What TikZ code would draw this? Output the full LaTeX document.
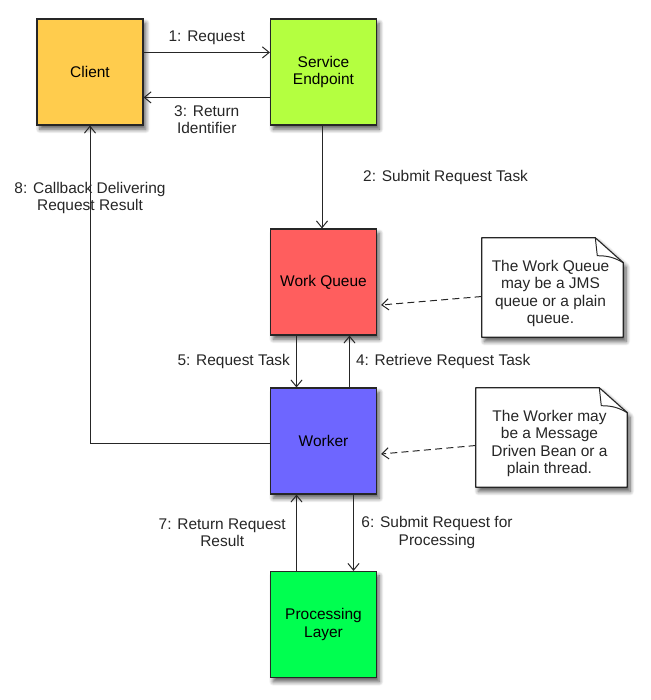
\documentclass[tikz,border=0pt]{standalone}
\usepackage{fontspec}
\setmainfont{Liberation Sans}
\usetikzlibrary{arrows.meta,positioning,calc,backgrounds,shadows.blur}
\definecolor{clientYellow}{RGB}{255,204,77}
\definecolor{endpointGreen}{RGB}{180,255,64}
\definecolor{queueRed}{RGB}{255,94,94}
\definecolor{workerBlue}{RGB}{110,102,255}
\definecolor{procGreen}{RGB}{0,255,80}
\colorlet{Ink}{black!85}

\begin{document}
\begin{tikzpicture}[x=0.025cm,y=-0.025cm,
      softshadow/.style={blur shadow={shadow xshift=2pt,shadow yshift=-3pt,
        shadow blur radius=3pt,shadow opacity=65,shadow blur steps=8}},
      comp/.style={draw=Ink,line width=0.8pt,minimum width=2.65cm,minimum height=2.65cm,
        align=center,font=\fontsize{11}{12.5}\selectfont,softshadow},
      note/.style={minimum height=2.475cm,inner sep=0pt},
      notepaper/.style={draw=Ink,fill=white,line width=0.8pt,line join=round,softshadow},
      lbl/.style={align=center,font=\fontsize{11}{12.5}\selectfont,text=Ink},
      flow/.style={draw=Ink,line width=0.7pt,-{Straight Barb[length=1.7mm,width=2.8mm]}},
      hint/.style={flow,dash pattern=on 5pt off 3pt}
    ]
    \useasboundingbox (0,0) rectangle (651,700);

    % Komponenten
    \node[comp,fill=clientYellow] (client) at (90,72) {Client};
    \node[comp,fill=endpointGreen] (endpoint) at (323.5,72) {Service\\Endpoint};
    \node[comp,fill=queueRed] (queue) at (323.5,282) {Work Queue};
    \node[comp,fill=workerBlue] (worker) at (323.5,441) {Worker};
    \node[comp,fill=procGreen] (proc) at (323.5,624.5) {Processing\\Layer};

    % Notizen, Papier mit Eselsohr im Hintergrund
    \node[note,minimum width=3.525cm] (noteQueue) at (552.5,287.5) {};
    \node[note,minimum width=3.775cm] (noteWorker) at (551.5,437.5) {};
    \node[lbl] (noteQueueText) at ($(noteQueue)+(-2,6)$)
      {The Work Queue\\may be a JMS\\queue or a plain\\queue.};
    \node[lbl] (noteWorkerText) at ($(noteWorker)+(-2,6)$)
      {The Worker may\\be a Message\\Driven Bean or a\\plain thread.};
    \begin{scope}[on background layer]
      \foreach \n in {noteQueue,noteWorker}{
        \draw[notepaper] (\n.south west) -- (\n.north west)
          -- ($(\n.north east)+(-28,0)$) -- ($(\n.north east)+(0,25)$)
          -- (\n.south east) -- cycle;
        \draw[Ink,line width=0.7pt] ($(\n.north east)+(-28,0)$)
          -- ($(\n.north east)+(-26,18)$) to[out=0,in=150] ($(\n.north east)+(0,25)$);
      }
    \end{scope}

    % Nachrichten
    \draw[flow] ($(client.north east)+(0,34)$) -- ($(endpoint.north west)+(0,34)$)
      node[midway,above=2pt,lbl] {1: Request};
    \draw[flow] ($(endpoint.north west)+(0,79)$) -- ($(client.north east)+(0,79)$)
      node[midway,below=2pt,lbl] {3: Return\\Identifier};
    \draw[flow] ($(endpoint.south)+(-1.5,0)$) -- ($(queue.north)+(-1.5,0)$)
      node[midway,right=0.9cm,lbl] {2: Submit Request Task};
    \draw[flow] ($(queue.south)+(-27,0)$) -- ($(worker.north)+(-27,0)$)
      node[midway,left=1pt,lbl] {5: Request Task};
    \draw[flow] ($(worker.north)+(26,0)$) -- ($(queue.south)+(26,0)$)
      node[midway,right=1pt,lbl] {4: Retrieve Request Task};
    \draw[flow] ($(proc.north)+(-27,0)$) -- ($(worker.south)+(-27,0)$)
      node[midway,left=4pt,lbl] {7: Return Request\\Result};
    \draw[flow] ($(worker.south)+(30,0)$) -- ($(proc.north)+(30,0)$)
      node[midway,right=2pt,lbl] {6: Submit Request for\\Processing};
    \draw[flow] ($(worker.west)+(0,2)$) -| (client.south)
      node[pos=0.886,lbl] {8: Callback Delivering\\Request Result};

    % Hinweise
    \draw[hint] ($(noteQueue.west)+(0,9)$) -- ($(queue.east)+(4,23)$);
    \draw[hint] ($(noteWorker.west)+(0,8)$) -- ($(worker.east)+(4,13)$);
  \end{tikzpicture}
\end{document}
